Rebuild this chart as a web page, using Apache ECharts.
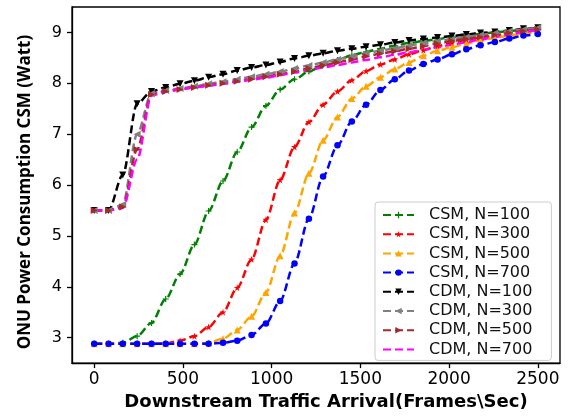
<!DOCTYPE html>
<html>
<head>
<meta charset="utf-8">
<script src="https://cdn.jsdelivr.net/npm/echarts@6/dist/echarts.min.js"></script>
<style>
  html, body { margin: 0; padding: 0; background: #fff; }
  #chart { width: 575px; height: 416px; }
</style>
</head>
<body>
<div id="chart"></div>
<script>
// traffic arrival (frames/sec), one value per marker
var arrival = [0, 81, 161, 242, 323, 403, 484, 565, 645, 726, 806, 887, 968, 1048, 1129, 1210,
  1290, 1371, 1452, 1532, 1613, 1694, 1774, 1855, 1935, 2016, 2097, 2177, 2258, 2339, 2419, 2500];

var csm100 = [2.88, 2.88, 2.90, 3.03, 3.29, 3.76, 4.25, 4.83, 5.49, 6.08, 6.65, 7.14, 7.56, 7.88, 8.08, 8.23,
  8.36, 8.46, 8.55, 8.62, 8.68, 8.74, 8.79, 8.83, 8.87, 8.91, 8.94, 8.97, 9.00, 9.03, 9.05, 9.07];
var csm300 = [2.88, 2.88, 2.88, 2.88, 2.88, 2.89, 2.94, 3.03, 3.21, 3.50, 3.98, 4.54, 5.32, 6.10, 6.75, 7.24,
  7.58, 7.84, 8.06, 8.24, 8.37, 8.47, 8.57, 8.65, 8.73, 8.80, 8.85, 8.90, 8.94, 8.98, 9.02, 9.06];
var csm500 = [2.88, 2.88, 2.88, 2.88, 2.88, 2.88, 2.88, 2.88, 2.90, 2.98, 3.15, 3.42, 3.89, 4.61, 5.45, 6.23,
  6.88, 7.34, 7.70, 7.94, 8.12, 8.28, 8.41, 8.54, 8.64, 8.71, 8.78, 8.84, 8.89, 8.94, 8.98, 9.02];
var csm700 = [2.88, 2.88, 2.88, 2.88, 2.88, 2.88, 2.88, 2.88, 2.88, 2.90, 2.94, 3.05, 3.28, 3.72, 4.46, 5.34,
  6.17, 6.78, 7.25, 7.58, 7.87, 8.08, 8.25, 8.38, 8.47, 8.57, 8.67, 8.75, 8.81, 8.88, 8.94, 8.97];
var cdm100 = [5.5, 5.5, 6.2, 7.6, 7.84, 7.92, 7.99, 8.05, 8.12, 8.18, 8.25, 8.31, 8.36, 8.42, 8.49, 8.54,
  8.59, 8.64, 8.68, 8.72, 8.76, 8.80, 8.84, 8.87, 8.90, 8.93, 8.96, 8.99, 9.01, 9.04, 9.07, 9.09];
var cdm300 = [5.5, 5.5, 5.62, 7.0, 7.8, 7.86, 7.9, 7.94, 7.99, 8.03, 8.08, 8.13, 8.18, 8.23, 8.29, 8.35,
  8.41, 8.47, 8.53, 8.59, 8.64, 8.69, 8.74, 8.79, 8.83, 8.87, 8.91, 8.95, 8.99, 9.03, 9.06, 9.09];
var cdm500 = [5.5, 5.5, 5.57, 6.7, 7.78, 7.84, 7.88, 7.92, 7.96, 8.0, 8.04, 8.08, 8.13, 8.18, 8.23, 8.29,
  8.35, 8.41, 8.47, 8.53, 8.58, 8.63, 8.68, 8.73, 8.78, 8.83, 8.87, 8.91, 8.95, 8.99, 9.03, 9.06];
var cdm700 = [5.5, 5.5, 5.55, 6.5, 7.76, 7.84, 7.88, 7.92, 7.95, 7.99, 8.03, 8.07, 8.11, 8.16, 8.21, 8.26,
  8.31, 8.36, 8.41, 8.46, 8.51, 8.56, 8.61, 8.66, 8.71, 8.76, 8.81, 8.86, 8.91, 8.96, 9.01, 9.05];

var xTicks = [0, 500, 1000, 1500, 2000, 2500];
var yTicks = [3, 4, 5, 6, 7, 8, 9];

var plusPath = 'path://M4,0H6V4H10V6H6V10H4V6H0V4H4Z';
var starPath = 'path://M5,0L6.2,3.6H10L6.9,5.8L8.1,9.5L5,7.2L1.9,9.5L3.1,5.8L0,3.6H3.8Z';

// name, values, colour, marker, size, rotate
var curves = [
  ['CSM, N=100', csm100, '#008000', plusPath, 6, 0],
  ['CSM, N=300', csm300, '#ff0000', starPath, 7, 0],
  ['CSM, N=500', csm500, '#ffa500', 'triangle', 7, 0],
  ['CSM, N=700', csm700, '#0000ff', 'circle', 6.5, 0],
  ['CDM, N=100', cdm100, '#000000', 'triangle', 7, 180],
  ['CDM, N=300', cdm300, '#808080', 'triangle', 7, 90],
  ['CDM, N=500', cdm500, '#a52a2a', 'triangle', 7, -90],
  ['CDM, N=700', cdm700, '#ff00ff', 'none', 0, 0]
];

var myChart = echarts.init(document.getElementById('chart'), null, { renderer: 'canvas' });

var series = curves.map(function (c) {
  var noMark = c[3] === 'none';
  return {
    name: c[0],
    type: 'line',
    data: arrival.map(function (x, i) { return [x, c[1][i]]; }),
    smooth: 0.3,
    smoothMonotone: 'x',
    symbol: noMark ? 'circle' : c[3],
    symbolSize: c[4],
    symbolRotate: c[5],
    showSymbol: !noMark,
    lineStyle: { color: c[2], width: 2.5, type: [8, 4] },
    itemStyle: { color: c[2], opacity: noMark ? 0 : 1 },
    emphasis: { disabled: true }
  };
});

var option = {
  animation: false,
  grid: {
    left: 72, top: 7, right: 15, bottom: 50,
    show: true, borderColor: '#000', borderWidth: 1.3, backgroundColor: '#fff'
  },
  legend: {
    orient: 'vertical',
    left: 375, top: 202,
    itemWidth: 31, itemHeight: 8, itemGap: 3.2,
    padding: [5, 19, 3, 7],
    backgroundColor: '#fff',
    borderColor: '#cccccc', borderWidth: 1, borderRadius: 3,
    textStyle: { fontFamily: 'DejaVu Sans', fontSize: 16, lineHeight: 16, color: '#111', padding: [0, 0, 0, 10] },
    data: curves.map(function (c) { return c[0]; })
  },
  xAxis: {
    type: 'value',
    min: -125, max: 2625,
    name: 'Downstream Traffic Arrival(Frames\\Sec)',
    nameLocation: 'middle',
    nameGap: 29,
    nameTextStyle: { fontFamily: 'DejaVu Sans', fontWeight: 'bold', fontSize: 18, color: '#000', padding: [0, 0, 0, 20] },
    axisLine: { show: true, onZero: false, lineStyle: { color: '#000', width: 1.3 } },
    axisTick: { show: true, length: 5, lineStyle: { color: '#000', width: 1.3 }, customValues: xTicks },
    axisLabel: {
      fontFamily: 'DejaVu Sans', fontSize: 17, color: '#000', margin: 8, customValues: xTicks,
      formatter: function (v) { return String(v); }
    },
    splitLine: { show: false }
  },
  yAxis: {
    type: 'value',
    min: 2.5, max: 9.5,
    name: 'ONU Power Consumption CSM (Watt)',
    nameLocation: 'middle',
    nameGap: 38,
    nameRotate: 90,
    nameTextStyle: { fontFamily: 'Open Sans', fontWeight: 'bold', fontSize: 17, color: '#000', padding: [0, 14, 0, 0] },
    axisLine: { show: true, onZero: false, lineStyle: { color: '#000', width: 1.3 } },
    axisTick: { show: true, length: 5, lineStyle: { color: '#000', width: 1.3 }, customValues: yTicks },
    axisLabel: {
      fontFamily: 'DejaVu Sans', fontSize: 16, color: '#000', margin: 10, customValues: yTicks,
      formatter: function (v) { return String(v); }
    },
    splitLine: { show: false }
  },
  series: series
};

myChart.setOption(option);
</script>
</body>
</html>
